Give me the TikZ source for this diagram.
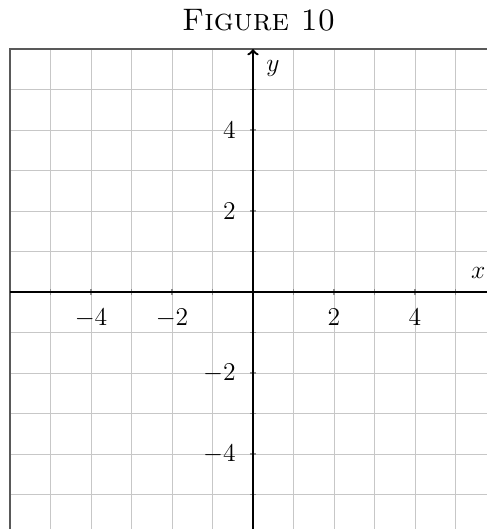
\documentclass[tikz,border=0pt]{standalone}
\usepackage{tikz}
\begin{document}
\begin{tikzpicture}[x=0.8cm,y=0.8cm,
  gridline/.style={black!22, line width=0.5pt},
  framebox/.style={black!65, line width=1.1pt},
  axisline/.style={black, line width=1.3pt, ->},
  tickmark/.style={black!45, line width=0.6pt},
  ticklabel/.style={inner sep=0pt, font=\fontsize{13.5}{16}\selectfont},
  axislabel/.style={inner sep=0pt, font=\fontsize{14.4}{17}\selectfont}]
\useasboundingbox (-6.247,-5.852) rectangle (5.778,7.21);
\clip (-6.247,-5.852) rectangle (5.778,7.21);
\foreach \k in {-6,...,6} {
  \draw[gridline] (\k,-6) -- (\k,6);
  \draw[gridline] (-6,\k) -- (6,\k);
}
\draw[framebox] (-6,-6) rectangle (6,6);
\foreach \k in {-5,...,5} {
  \draw[tickmark] (\k,-0.075) -- (\k,0.075);
  \draw[tickmark] (-0.075,\k) -- (0.075,\k);
}
\coordinate (xs) at (-6,0);
\coordinate (xe) at (6,0);
\coordinate (ys) at (0,-6);
\coordinate (ye) at (0,6);
\draw[axisline] (xs) -- (xe);
\draw[axisline] (ys) -- (ye);
\node[axislabel] (xl) at (5.56,0.47) {$x$};
\node[axislabel] (yl) at (0.49,5.53) {$y$};
\foreach \k in {-4,-2,2,4} {
  \node[ticklabel, anchor=north] (xt\k) at (\k,-0.42) {$\k$};
  \node[ticklabel, anchor=east] (yt\k) at (-0.42,\k) {$\k$};
}
\node[anchor=base, inner sep=0pt, font=\fontsize{17.5}{21}\selectfont\scshape] (title) at (0.14,6.45) {Figure 10};
\end{tikzpicture}
\end{document}
